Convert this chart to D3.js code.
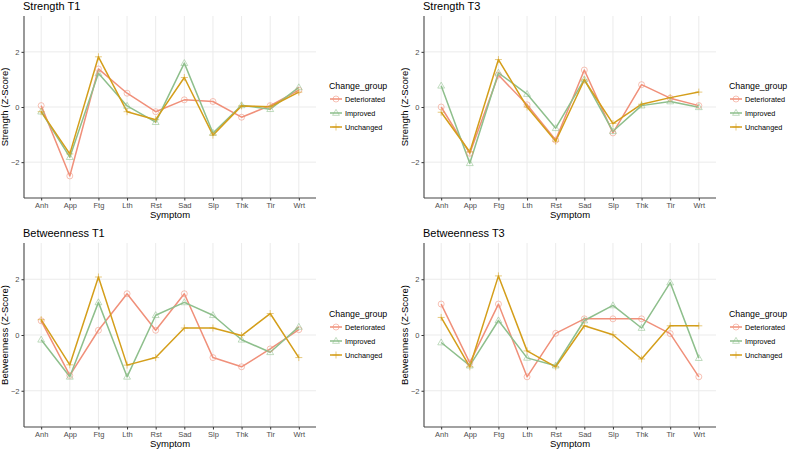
<!DOCTYPE html>
<html>
<head>
<meta charset="utf-8">
<script src="https://cdn.jsdelivr.net/npm/d3@7"></script>
<style>
  html, body { margin: 0; padding: 0; background: #fff; }
  svg { display: block; font-family: "Liberation Sans", Arial, sans-serif; }
</style>
</head>
<body>
<svg id="chart" width="789" height="451"></svg>
<script>
const symptoms = ["Anh","App","Ftg","Lth","Rst","Sad","Slp","Thk","Tir","Wrt"];
const groups = ["Deteriorated","Improved","Unchanged"];
const yTicks = [-2, 0, 2];

// Strength T1
const strengthT1_Deteriorated = [0.05, -2.5, 1.38, 0.5, -0.17, 0.26, 0.2, -0.37, 0.05, 0.61];
const strengthT1_Improved     = [-0.17, -1.82, 1.22, 0.04, -0.55, 1.59, -0.94, 0.06, -0.08, 0.71];
const strengthT1_Unchanged    = [-0.17, -1.70, 1.82, -0.17, -0.46, 1.07, -1.02, 0.04, 0.01, 0.54];
// Strength T3
const strengthT3_Deteriorated = [0.0, -1.68, 1.16, 0.08, -1.2, 1.34, -0.94, 0.81, 0.32, 0.05];
const strengthT3_Improved     = [0.77, -2.04, 1.24, 0.47, -0.77, 1.0, -0.88, 0.05, 0.2, -0.01];
const strengthT3_Unchanged    = [-0.19, -1.63, 1.72, 0.0, -1.24, 0.98, -0.6, 0.1, 0.34, 0.54];
// Betweenness T1
const betweenT1_Deteriorated  = [0.51, -1.45, 0.17, 1.48, 0.17, 1.48, -0.81, -1.14, -0.5, 0.19];
const betweenT1_Improved      = [-0.17, -1.5, 1.17, -1.5, 0.71, 1.17, 0.71, -0.17, -0.62, 0.29];
const betweenT1_Unchanged     = [0.55, -1.07, 2.08, -1.08, -0.81, 0.25, 0.25, -0.02, 0.77, -0.81];
// Betweenness T3
const betweenT3_Deteriorated  = [1.11, -1.0, 1.11, -1.5, 0.06, 0.58, 0.58, 0.58, 0.05, -1.5];
const betweenT3_Improved      = [-0.27, -1.1, 0.52, -0.82, -1.1, 0.52, 1.06, 0.25, 1.88, -0.83];
const betweenT3_Unchanged     = [0.63, -1.14, 2.12, -0.57, -1.14, 0.33, 0.01, -0.86, 0.33, 0.33];

const panelTitles = ["Strength T1", "Strength T3", "Betweenness T1", "Betweenness T3"];
const yTitles = ["Strength (Z-Score)", "Strength (Z-Score)", "Betweenness (Z-Score)", "Betweenness (Z-Score)"];
const panelData = [
  [strengthT1_Deteriorated, strengthT1_Improved, strengthT1_Unchanged],
  [strengthT3_Deteriorated, strengthT3_Improved, strengthT3_Unchanged],
  [betweenT1_Deteriorated, betweenT1_Improved, betweenT1_Unchanged],
  [betweenT3_Deteriorated, betweenT3_Improved, betweenT3_Unchanged]
];

const colors = {Deteriorated: "#F0907A", Improved: "#8EBF8C", Unchanged: "#D49E1A"};
const shapes = {Deteriorated: "circle", Improved: "triangle", Unchanged: "plus"};

const layouts = [
  {left: 24, right: 316, top: 16, bottom: 198},
  {left: 424, right: 716, top: 16, bottom: 198},
  {left: 24, right: 316, top: 243, bottom: 427},
  {left: 424, right: 716, top: 243, bottom: 427}
];

const svg = d3.select("#chart");

function drawShape(g, shape, x, y, color) {
  if (shape === "circle") {
    g.append("circle").attr("cx", x).attr("cy", y).attr("r", 3)
      .attr("fill", "none").attr("stroke", color).attr("stroke-width", 1).attr("stroke-opacity", 0.55);
  } else if (shape === "triangle") {
    const s = 3.6;
    g.append("path")
      .attr("d", `M${x},${y - s} L${x + s * 0.95},${y + s * 0.65} L${x - s * 0.95},${y + s * 0.65} Z`)
      .attr("fill", "none").attr("stroke", color).attr("stroke-width", 1).attr("stroke-opacity", 0.55);
  } else {
    const s = 3.5;
    g.append("path")
      .attr("d", `M${x - s},${y} H${x + s} M${x},${y - s} V${y + s}`)
      .attr("fill", "none").attr("stroke", color).attr("stroke-width", 1).attr("stroke-opacity", 0.55);
  }
}

panelData.forEach((series, i) => {
  const L = layouts[i];
  const g = svg.append("g");

  const x = d3.scalePoint().domain(symptoms).range([L.left, L.right]).padding(0.6);
  const y = d3.scaleLinear().domain([-3.3, 3.3]).range([L.bottom, L.top]);

  // gridlines
  g.append("g").selectAll("line.h").data(yTicks).join("line")
    .attr("x1", L.left).attr("x2", L.right)
    .attr("y1", d => y(d)).attr("y2", d => y(d))
    .attr("stroke", "#ebebeb").attr("stroke-width", 1);
  g.append("g").selectAll("line.v").data(symptoms).join("line")
    .attr("x1", d => x(d)).attr("x2", d => x(d))
    .attr("y1", L.top).attr("y2", L.bottom)
    .attr("stroke", "#ebebeb").attr("stroke-width", 1);

  // axes
  const xAxis = g.append("g").attr("transform", `translate(0,${L.bottom})`)
    .call(d3.axisBottom(x).tickSize(2.5).tickPadding(2));
  const yAxis = g.append("g").attr("transform", `translate(${L.left},0)`)
    .call(d3.axisLeft(y).tickValues(yTicks).tickSize(2.5).tickPadding(2).tickFormat(d3.format("d")));
  [xAxis, yAxis].forEach(a => {
    a.select(".domain").remove();
    a.selectAll(".tick line").attr("stroke", "#333");
    a.selectAll(".tick text").attr("fill", "#4d4d4d").style("font-size", "7.5px")
      .style("font-family", "'Liberation Sans', Arial, sans-serif");
  });
  g.append("line").attr("x1", L.left).attr("x2", L.right).attr("y1", L.bottom).attr("y2", L.bottom)
    .attr("stroke", "#444").attr("stroke-width", 1.1);
  g.append("line").attr("x1", L.left).attr("x2", L.left).attr("y1", L.top).attr("y2", L.bottom)
    .attr("stroke", "#444").attr("stroke-width", 1.1);

  // titles
  g.append("text").attr("x", L.left - 1).attr("y", L.top - 6)
    .style("font-size", "11px").attr("fill", "#000").text(panelTitles[i]);
  g.append("text").attr("x", (L.left + L.right) / 2).attr("y", L.bottom + 20)
    .attr("text-anchor", "middle").style("font-size", "9.5px").attr("fill", "#000").text("Symptom");
  g.append("text")
    .attr("transform", `translate(${L.left - 16},${(L.top + L.bottom) / 2}) rotate(-90)`)
    .attr("text-anchor", "middle").style("font-size", "9.5px").attr("fill", "#000").text(yTitles[i]);

  // lines and points
  const line = d3.line().x((d, j) => x(symptoms[j])).y(d => y(d));
  groups.forEach((grp, k) => {
    g.append("path").datum(series[k]).attr("d", line)
      .attr("fill", "none").attr("stroke", colors[grp]).attr("stroke-width", 1.5)
      .attr("stroke-linejoin", "round");
  });
  groups.forEach((grp, k) => {
    const pg = g.append("g");
    series[k].forEach((v, j) => drawShape(pg, shapes[grp], x(symptoms[j]), y(v), colors[grp]));
  });

  // legend
  const lx = L.right + 13;
  const cy = (L.top + L.bottom) / 2;
  const lg = g.append("g");
  lg.append("text").attr("x", lx).attr("y", cy - 18).style("font-size", "8.8px").attr("fill", "#000").text("Change_group");
  groups.forEach((grp, k) => {
    const ky = cy - 8 + k * 14;
    lg.append("line").attr("x1", lx + 1).attr("x2", lx + 13).attr("y1", ky).attr("y2", ky)
      .attr("stroke", colors[grp]).attr("stroke-width", 1.5);
    drawShape(lg, shapes[grp], lx + 7, ky, colors[grp]);
    lg.append("text").attr("x", lx + 16).attr("y", ky + 2.7).style("font-size", "7.3px").attr("fill", "#000").text(grp);
  });
});
</script>
</body>
</html>
